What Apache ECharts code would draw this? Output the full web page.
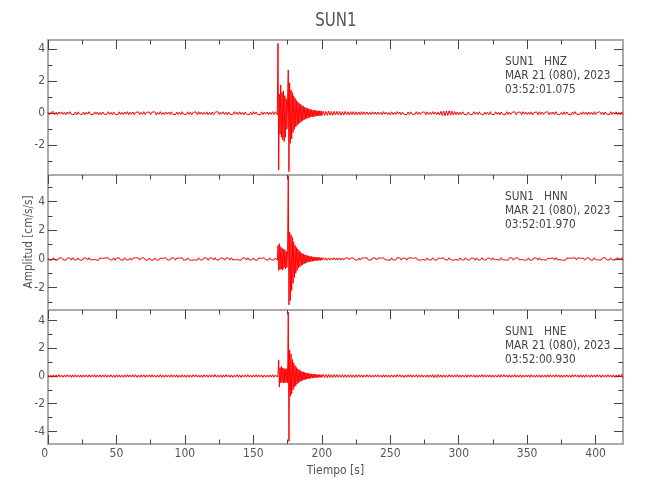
<!DOCTYPE html>
<html>
<head>
<meta charset="utf-8">
<script src="https://cdn.jsdelivr.net/npm/echarts@6/dist/echarts.min.js"></script>
<style>html,body{margin:0;padding:0;background:#fff}#c{width:650px;height:500px}</style>
</head>
<body>
<div id="c"></div>
<script>
// ---- data ----
const station = 'SUN1';
const channels = ['HNZ', 'HNN', 'HNE'];
const dateText = 'MAR 21 (080), 2023';
const startTimes = ['03:52:01.075', '03:52:01.970', '03:52:00.930'];
const xLabelName = 'Tiempo [s]';
const yLabelName = 'Amplitud [cm/s/s]';

const xMin = 0, xMax = 420;
const xMajor = [0, 50, 100, 150, 200, 250, 300, 350, 400];
const xMinor = [25, 75, 125, 175, 225, 275, 325, 375];

const yMin = [-3.86, -3.56, -4.91];
const yMax = [4.58, 5.86, 4.77];
const yMajor = [[-2, 0, 2, 4], [-2, 0, 2, 4], [-4, -2, 0, 2, 4]];
const yMinor = [[-3, -1, 1, 3], [-3, -1, 1, 3, 5], [-3, -1, 1, 3]];

// sampling of each segment: start time (s), step (s)
const segStart = [0, 167, 201, 241];
const segStep = [1, 0.5, 1, 1];

const hnzPre = [0.07,-0.09,0.05,-0.06,0.1,-0.08,0.06,-0.1,0.08,-0.05,
0.09,-0.07,0.06,-0.09,0.08,-0.06,0.1,-0.07,0.05,-0.08,
0.07,-0.1,0.09,-0.05,0.06,-0.08,0.08,-0.09,0.07,-0.06,
0.1,-0.07,0.05,-0.08,0.09,-0.06,0.07,-0.1,0.06,-0.09,
0.08,-0.05,0.07,-0.08,0.1,-0.07,0.06,-0.09,0.08,-0.06,
0.05,-0.1,0.09,-0.07,0.06,-0.08,0.08,-0.05,0.1,-0.09,
0.07,-0.06,0.08,-0.1,0.05,-0.07,0.09,-0.08,0.06,-0.07,
0.1,-0.08,0.06,-0.06,0.08,-0.09,0.07,-0.05,0.09,-0.1,
0.06,-0.07,0.1,-0.08,0.05,-0.09,0.08,-0.06,0.07,-0.08,
0.09,-0.05,0.07,-0.1,0.08,-0.07,0.06,-0.09,0.1,-0.06,
0.05,-0.08,0.09,-0.07,0.07,-0.1,0.06,-0.05,0.08,-0.09,
0.1,-0.06,0.07,-0.08,0.06,-0.07,0.09,-0.1,0.05,-0.08,
0.08,-0.09,0.06,-0.05,0.1,-0.08,0.07,-0.06,0.09,-0.07,
0.06,-0.1,0.08,-0.07,0.05,-0.09,0.1,-0.06,0.07,-0.08,
0.09,-0.07,0.06,-0.1,0.08,-0.05,0.07,-0.09,0.06,-0.08,
0.1,-0.06,0.08,-0.07,0.05,-0.1,0.09,-0.08,0.07,-0.06,
0.08,-0.09,0.06,-0.07,0.1,-0.08,0.09];
const hnzEvent = [0.08,-0.1,4.37,-3.54,1.2,-1.3,1.77,-1.5,1.3,-1.67,
1.4,-1.77,1.1,-1.5,0.9,-1.0,0.8,2.7,-3.65,1.9,
-1.88,1.46,-1.6,1.3,-1.2,1.1,-1.0,0.94,-0.85,0.8,
-0.75,0.7,-0.68,0.62,-0.6,0.55,-0.52,0.5,-0.46,0.44,
-0.42,0.38,-0.36,0.35,-0.33,0.3,-0.3,0.28,-0.26,0.25,
-0.24,0.22,-0.22,0.2,-0.21,0.19,-0.2,0.18,-0.17,0.16,
-0.17,0.15,-0.16,0.15,-0.14,0.15,-0.14];
const hnzCoda = [0.13,-0.14,0.12,-0.13,0.14,-0.12,0.11,-0.13,0.12,-0.11,
0.12,-0.1,0.11,-0.12,0.1,-0.11,0.11,-0.1,0.09,-0.11,
0.1,-0.09,0.1,-0.1,0.09,-0.1,0.08,-0.09,0.1,-0.08,
0.09,-0.08,0.08,-0.09,0.07,-0.08,0.09,-0.07,0.08,-0.08];
const hnzPost = [0.08,-0.07,0.06,-0.09,0.1,-0.06,0.07,-0.08,0.05,-0.1,
0.09,-0.07,0.06,-0.08,0.1,-0.05,0.08,-0.09,0.07,-0.06,
0.06,-0.1,0.08,-0.07,0.09,-0.06,0.05,-0.08,0.1,-0.07,
0.07,-0.09,0.06,-0.05,0.08,-0.1,0.09,-0.07,0.06,-0.08,
0.1,-0.06,0.08,-0.09,0.07,-0.11,0.12,-0.14,0.13,-0.16,
0.15,-0.13,0.16,-0.12,0.14,-0.11,0.1,-0.09,0.08,-0.1,
0.07,-0.08,0.09,-0.06,0.06,-0.1,0.08,-0.07,0.05,-0.09,
0.1,-0.06,0.07,-0.08,0.09,-0.05,0.06,-0.1,0.08,-0.07,
0.06,-0.09,0.1,-0.07,0.05,-0.08,0.09,-0.06,0.07,-0.1,
0.08,-0.05,0.06,-0.09,0.1,-0.07,0.07,-0.08,0.06,-0.06,
0.09,-0.1,0.05,-0.07,0.08,-0.09,0.1,-0.06,0.07,-0.08,
0.06,-0.07,0.09,-0.1,0.05,-0.06,0.08,-0.09,0.1,-0.07,
0.07,-0.08,0.06,-0.05,0.09,-0.1,0.07,-0.06,0.08,-0.09,
0.1,-0.07,0.05,-0.08,0.06,-0.09,0.09,-0.07,0.08,-0.06,
0.06,-0.1,0.08,-0.07,0.1,-0.05,0.07,-0.09,0.05,-0.08,
0.09,-0.06,0.07,-0.1,0.08,-0.07,0.06,-0.08,0.1,-0.09,
0.05,-0.07,0.09,-0.06,0.07,-0.1,0.08,-0.05,0.06,-0.09,
0.1,-0.08,0.07,-0.06,0.09,-0.07,0.06,-0.1,0.08,-0.07];

const hnnPre = [0.06,-0.08,0.05,-0.07,0.09,-0.06,0.04,-0.08,0.07,-0.05,
0.08,-0.06,0.05,-0.09,0.07,-0.04,0.06,-0.08,0.09,-0.07,
0.05,-0.06,0.08,-0.07,0.04,-0.09,0.07,-0.05,0.06,-0.08,
0.09,-0.07,0.06,-0.04,0.08,-0.06,0.05,-0.09,0.07,-0.06,
0.04,-0.08,0.07,-0.06,0.09,-0.05,0.06,-0.07,0.08,-0.09,
0.06,-0.05,0.08,-0.07,0.05,-0.08,0.09,-0.06,0.04,-0.07,
0.07,-0.09,0.05,-0.06,0.08,-0.04,0.07,-0.08,0.06,-0.05,
0.09,-0.06,0.04,-0.08,0.07,-0.07,0.05,-0.09,0.08,-0.06,
0.06,-0.08,0.07,-0.05,0.04,-0.07,0.09,-0.06,0.05,-0.08,
0.08,-0.04,0.06,-0.09,0.07,-0.06,0.05,-0.07,0.09,-0.08,
0.05,-0.07,0.08,-0.06,0.06,-0.09,0.04,-0.05,0.07,-0.08,
0.09,-0.06,0.05,-0.07,0.08,-0.04,0.06,-0.09,0.07,-0.05,
0.06,-0.08,0.09,-0.06,0.04,-0.07,0.08,-0.05,0.05,-0.09,
0.07,-0.06,0.06,-0.08,0.09,-0.07,0.05,-0.04,0.08,-0.06,
0.04,-0.09,0.07,-0.05,0.06,-0.08,0.09,-0.07,0.05,-0.06,
0.08,-0.07,0.05,-0.09,0.07,-0.06,0.04,-0.08,0.09,-0.05,
0.06,-0.07,0.08,-0.06,0.05,-0.08,0.07];
const hnnEvent = [0.07,-0.08,0.95,-0.79,1.07,-0.75,0.85,-0.7,0.75,-0.78,
0.7,-0.6,0.65,-0.7,0.55,-0.6,0.6,5.8,-3.2,1.87,
-2.9,1.7,-2.2,1.53,-1.7,1.2,-1.3,0.95,-1.0,0.8,
-0.8,0.7,-0.62,0.58,-0.55,0.48,-0.45,0.4,-0.4,0.36,
-0.34,0.3,-0.3,0.27,-0.26,0.24,-0.22,0.21,-0.2,0.19,
-0.18,0.17,-0.16,0.15,-0.15,0.14,-0.13,0.13,-0.12,0.12,
-0.11,0.11,-0.1,0.1,-0.1,0.09,-0.09];
const hnnCoda = [0.09,-0.08,0.08,-0.09,0.07,-0.08,0.08,-0.07,0.09,-0.08,
0.07,-0.08,0.08,-0.07,0.07,-0.08,0.06,-0.07,0.08,-0.07,
0.07,-0.06,0.08,-0.07,0.06,-0.07,0.07,-0.08,0.06,-0.07,
0.07,-0.06,0.08,-0.07,0.06,-0.08,0.07,-0.06,0.07,-0.07];
const hnnPost = [0.07,-0.06,0.05,-0.08,0.09,-0.05,0.06,-0.07,0.04,-0.09,
0.08,-0.06,0.05,-0.07,0.09,-0.04,0.07,-0.08,0.06,-0.05,
0.05,-0.09,0.07,-0.06,0.08,-0.05,0.04,-0.07,0.09,-0.06,
0.06,-0.08,0.05,-0.04,0.07,-0.09,0.08,-0.06,0.05,-0.07,
0.09,-0.05,0.07,-0.08,0.06,-0.07,0.04,-0.09,0.08,-0.06,
0.05,-0.07,0.09,-0.06,0.07,-0.08,0.05,-0.04,0.06,-0.09,
0.08,-0.06,0.04,-0.07,0.09,-0.05,0.06,-0.08,0.07,-0.06,
0.05,-0.09,0.08,-0.07,0.04,-0.06,0.09,-0.05,0.07,-0.08,
0.06,-0.07,0.05,-0.09,0.08,-0.06,0.07,-0.04,0.05,-0.08,
0.09,-0.06,0.06,-0.07,0.04,-0.08,0.08,-0.05,0.07,-0.09,
0.05,-0.07,0.09,-0.06,0.06,-0.04,0.07,-0.08,0.05,-0.06,
0.08,-0.09,0.04,-0.07,0.07,-0.05,0.06,-0.08,0.09,-0.06,
0.06,-0.05,0.08,-0.09,0.05,-0.07,0.04,-0.06,0.08,-0.07,
0.09,-0.06,0.07,-0.05,0.06,-0.08,0.05,-0.09,0.07,-0.04,
0.05,-0.08,0.06,-0.07,0.09,-0.06,0.08,-0.05,0.04,-0.07,
0.07,-0.09,0.05,-0.06,0.08,-0.07,0.06,-0.08,0.09,-0.05,
0.06,-0.07,0.04,-0.08,0.07,-0.06,0.09,-0.05,0.05,-0.08,
0.08,-0.06,0.07,-0.09,0.05,-0.07,0.06,-0.08,0.09,-0.1];

const hnePre = [0.08,-0.09,0.07,-0.1,0.09,-0.07,0.08,-0.09,0.1,-0.08,
0.07,-0.09,0.09,-0.08,0.1,-0.07,0.08,-0.1,0.09,-0.08,
0.1,-0.08,0.07,-0.09,0.08,-0.1,0.09,-0.07,0.08,-0.09,
0.09,-0.1,0.08,-0.07,0.1,-0.09,0.07,-0.08,0.09,-0.1,
0.08,-0.07,0.1,-0.09,0.08,-0.08,0.09,-0.1,0.07,-0.09,
0.1,-0.08,0.08,-0.09,0.07,-0.1,0.09,-0.08,0.1,-0.07,
0.08,-0.09,0.09,-0.08,0.1,-0.09,0.07,-0.1,0.08,-0.08,
0.09,-0.1,0.08,-0.07,0.09,-0.09,0.1,-0.08,0.07,-0.09,
0.08,-0.08,0.1,-0.09,0.07,-0.1,0.09,-0.07,0.08,-0.09,
0.1,-0.09,0.08,-0.08,0.09,-0.1,0.07,-0.09,0.1,-0.08,
0.07,-0.1,0.09,-0.08,0.08,-0.09,0.1,-0.07,0.09,-0.08,
0.08,-0.09,0.07,-0.1,0.1,-0.08,0.08,-0.09,0.09,-0.07,
0.09,-0.08,0.1,-0.09,0.07,-0.08,0.09,-0.1,0.08,-0.09,
0.1,-0.07,0.08,-0.09,0.09,-0.1,0.07,-0.08,0.1,-0.09,
0.08,-0.1,0.09,-0.07,0.08,-0.09,0.1,-0.08,0.07,-0.09,
0.09,-0.08,0.1,-0.09,0.08,-0.07,0.09,-0.1,0.08,-0.09,
0.07,-0.09,0.09,-0.08,0.1,-0.09,0.08];
const hneEvent = [0.06,-0.07,0.1,1.17,-0.8,0.6,-0.5,0.69,-0.45,0.6,
-0.5,0.55,-0.51,0.5,-0.45,0.55,-0.5,4.6,-4.72,1.89,
-1.47,1.6,-1.3,1.2,-1.0,0.95,-0.8,0.75,-0.7,0.62,
-0.58,0.52,-0.48,0.45,-0.42,0.38,-0.36,0.33,-0.31,0.3,
-0.28,0.26,-0.25,0.23,-0.22,0.21,-0.2,0.19,-0.18,0.17,
-0.16,0.15,-0.15,0.14,-0.13,0.13,-0.12,0.12,-0.11,0.11,
-0.11,0.1,-0.1,0.1,-0.09,0.09,-0.09];
const hneCoda = [0.12,-0.11,0.11,-0.12,0.11,-0.1,0.1,-0.11,0.11,-0.1,
0.1,-0.1,0.1,-0.09,0.1,-0.1,0.09,-0.1,0.09,-0.09,
0.1,-0.09,0.09,-0.1,0.09,-0.09,0.1,-0.08,0.09,-0.09,
0.08,-0.09,0.09,-0.08,0.09,-0.09,0.08,-0.09,0.09,-0.08];
const hnePost = [0.09,-0.08,0.07,-0.09,0.1,-0.08,0.08,-0.09,0.07,-0.1,
0.09,-0.08,0.08,-0.09,0.1,-0.07,0.09,-0.08,0.08,-0.1,
0.07,-0.09,0.09,-0.08,0.1,-0.09,0.08,-0.07,0.09,-0.1,
0.08,-0.09,0.1,-0.08,0.07,-0.09,0.09,-0.1,0.08,-0.08,
0.1,-0.11,0.09,-0.1,0.11,-0.09,0.08,-0.1,0.09,-0.08,
0.07,-0.09,0.1,-0.08,0.08,-0.09,0.09,-0.07,0.1,-0.09,
0.08,-0.1,0.07,-0.08,0.09,-0.09,0.1,-0.08,0.08,-0.07,
0.09,-0.1,0.08,-0.09,0.07,-0.08,0.1,-0.09,0.09,-0.08,
0.08,-0.07,0.09,-0.1,0.08,-0.09,0.07,-0.08,0.1,-0.09,
0.09,-0.08,0.1,-0.07,0.08,-0.09,0.09,-0.1,0.07,-0.08,
0.1,-0.09,0.08,-0.08,0.09,-0.1,0.07,-0.09,0.08,-0.07,
0.09,-0.1,0.1,-0.08,0.07,-0.09,0.08,-0.08,0.09,-0.1,
0.08,-0.09,0.07,-0.1,0.1,-0.08,0.09,-0.07,0.08,-0.09,
0.1,-0.08,0.09,-0.09,0.08,-0.1,0.07,-0.08,0.09,-0.09,
0.07,-0.09,0.1,-0.08,0.09,-0.07,0.08,-0.1,0.1,-0.09,
0.08,-0.1,0.09,-0.08,0.07,-0.09,0.1,-0.08,0.08,-0.09,
0.09,-0.07,0.08,-0.1,0.09,-0.08,0.07,-0.09,0.1,-0.08,
0.08,-0.09,0.09,-0.1,0.08,-0.09,0.1,-0.08,0.11,-0.12];

const traces = [
  [hnzPre, hnzEvent, hnzCoda, hnzPost],
  [hnnPre, hnnEvent, hnnCoda, hnnPost],
  [hnePre, hneEvent, hneCoda, hnePost]
];

// ---- layout / style ----
const FONT = "'DejaVu Sans Condensed', 'Liberation Sans', sans-serif";
const gridLeft = 48, gridRight = 27;
const gridTop = [40, 175, 310];
const gridH = [135, 135, 134];
const tickStyle = { color: '#444', width: 1 };
const txtColor = '#555';

function buildSeriesData(segs) {
  const out = [];
  segs.forEach((vals, s) => {
    vals.forEach((v, k) => out.push([segStart[s] + k * segStep[s], v]));
  });
  return out;
}

const grids = [], xAxes = [], yAxes = [], series = [], graphics = [];
for (let i = 0; i < 3; i++) {
  grids.push({ left: gridLeft, right: gridRight, top: gridTop[i], height: gridH[i],
    show: true, borderColor: '#aaaaaa', borderWidth: 2, backgroundColor: 'transparent' });
  const xBase = { gridIndex: i, type: 'value', min: xMin, max: xMax,
    axisLine: { show: false, onZero: false }, splitLine: { show: false }, axisLabel: { show: false } };
  const xMainIdx = xAxes.length;
  xAxes.push(Object.assign({}, xBase, { position: 'top',
    axisTick: { inside: true, length: 9, customValues: xMajor, lineStyle: tickStyle } }));
  xAxes.push(Object.assign({}, xBase, { position: 'top',
    axisTick: { inside: true, length: 4.5, customValues: xMinor, lineStyle: tickStyle } }));
  if (i === 2) {
    xAxes.push(Object.assign({}, xBase, { position: 'bottom',
      axisTick: { inside: true, length: 9, customValues: xMajor, lineStyle: tickStyle },
      axisLabel: { show: true, customValues: xMajor, margin: 4, fontSize: 12, color: txtColor,
        fontFamily: FONT, alignMinLabel: 'right' },
      name: xLabelName, nameLocation: 'middle', nameGap: 21,
      nameTextStyle: { fontSize: 12, color: txtColor, fontFamily: FONT } }));
    xAxes.push(Object.assign({}, xBase, { position: 'bottom',
      axisTick: { inside: true, length: 4.5, customValues: xMinor, lineStyle: tickStyle } }));
  }
  const yBase = { gridIndex: i, type: 'value', min: yMin[i], max: yMax[i],
    axisLine: { show: false, onZero: false }, splitLine: { show: false }, axisLabel: { show: false } };
  const yMainIdx = yAxes.length;
  yAxes.push(Object.assign({}, yBase, { position: 'left',
    axisTick: { inside: true, length: 9, customValues: yMajor[i], lineStyle: tickStyle },
    axisLabel: { show: true, customValues: yMajor[i], margin: 3, fontSize: 12, color: txtColor, fontFamily: FONT } }));
  yAxes.push(Object.assign({}, yBase, { position: 'left',
    axisTick: { inside: true, length: 4.5, customValues: yMinor[i], lineStyle: tickStyle } }));
  yAxes.push(Object.assign({}, yBase, { position: 'right',
    axisTick: { inside: true, length: 9, customValues: yMajor[i], lineStyle: tickStyle } }));
  yAxes.push(Object.assign({}, yBase, { position: 'right',
    axisTick: { inside: true, length: 4.5, customValues: yMinor[i], lineStyle: tickStyle } }));

  series.push({ type: 'line', xAxisIndex: xMainIdx, yAxisIndex: yMainIdx,
    data: buildSeriesData(traces[i]), showSymbol: false, symbol: 'none',
    lineStyle: { color: '#ff0000', width: 1 }, silent: true, animation: false, z: 3 });

  const lines = [station + '   ' + channels[i], dateText, startTimes[i]];
  lines.forEach((t, j) => {
    graphics.push({ type: 'text', x: 505, y: gridTop[i] + 21.5 + j * 14.3, scaleX: 0.9,
      style: { text: t, fill: '#444', font: '13px ' + FONT, textAlign: 'left', textVerticalAlign: 'middle' } });
  });
}
graphics.push({ type: 'text', x: 336, y: 21, scaleX: 0.88,
  style: { text: station, fill: txtColor, font: '19px ' + FONT, textAlign: 'center', textVerticalAlign: 'middle' } });
graphics.push({ type: 'text', x: 29, y: 242, rotation: Math.PI / 2, scaleX: 0.9,
  style: { text: yLabelName, fill: txtColor, font: '13px ' + FONT, textAlign: 'center', textVerticalAlign: 'middle' } });

const chart = echarts.init(document.getElementById('c'), null, { renderer: 'canvas' });
chart.setOption({
  animation: false,
  backgroundColor: '#ffffff',
  grid: grids, xAxis: xAxes, yAxis: yAxes, series: series, graphic: graphics
});
</script>
</body>
</html>
